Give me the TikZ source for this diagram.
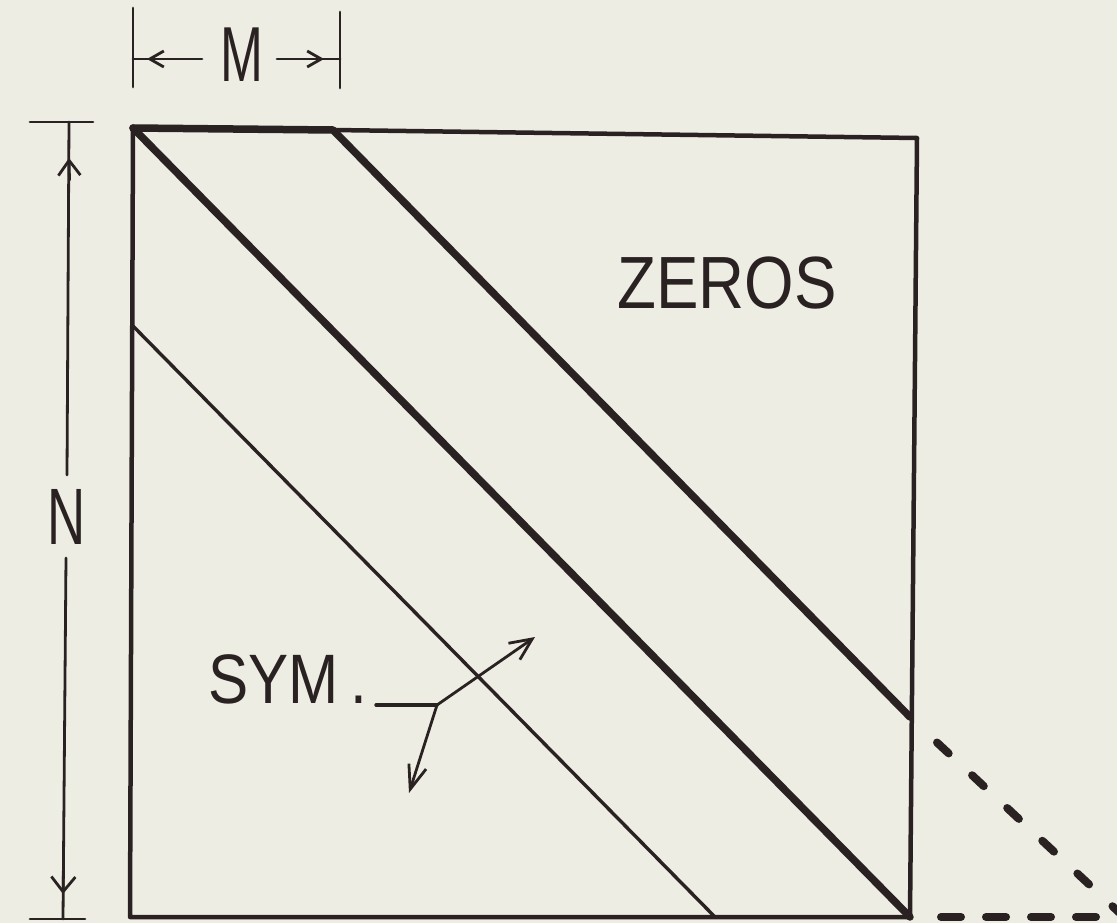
\documentclass[tikz,border=0pt]{standalone}
\usepackage{fontspec}
\setmainfont{Liberation Sans}
\newfontfamily\wide[FakeStretch=0.86]{Liberation Sans}
\newfontfamily\narrow[FakeStretch=0.66]{Liberation Sans}
\usetikzlibrary{arrows.meta}
\definecolor{bg}{HTML}{EEEDE3}
\definecolor{ink}{HTML}{2A2222}
\tikzset{
  thinline/.style={draw=ink, line width=4.5pt, line join=round, line cap=round},
  heavyline/.style={draw=ink, line width=7.5pt, line join=round, line cap=round},
  lightline/.style={draw=ink, line width=3.4pt, line cap=round},
  dimline/.style={draw=ink, line width=2.8pt, line cap=round},
  barb/.style={draw=ink, line width=2.8pt, line cap=round, line join=round},
  dashline/.style={draw=ink, line width=8pt, line cap=round},
  label/.style={inner sep=0pt, text=ink}
}
\begin{document}
\begin{tikzpicture}[x=1pt, y=-1pt]
\path[fill=bg] (0,0) rectangle (1117,923);
\useasboundingbox (0,0) rectangle (1117,923);
% corners of the matrix
\coordinate (TL) at (133,128);
\coordinate (TR) at (917,138);
\coordinate (BR) at (910,917);
\coordinate (BL) at (130,917);
\coordinate (Mend) at (333,130);
\coordinate (Bandend) at (910,717);
\coordinate (Lowstart) at (132,325);
\coordinate (Lowend) at (715,917);
% outline
\draw[thinline] (Mend) -- (TR) -- (BR) -- (BL) -- (TL);
\draw[heavyline] (TL) -- (Mend) -- (Bandend);
\draw[heavyline] (TL) -- (BR);
\draw[lightline] (Lowstart) -- (Lowend);
% dashed extension
\coordinate (D1) at (937,742.5);
\coordinate (D2) at (1124,917);
\coordinate (H1) at (941,917);
\coordinate (H2) at (1130,917);
\draw[dashline, dash pattern=on 16pt off 32pt] (D1) -- (D2);
\draw[dashline, dash pattern=on 20pt off 25pt] (H1) -- (H2);
% M dimension
\coordinate (Mt1a) at (133,8);  \coordinate (Mt1b) at (133,87);
\coordinate (Mt2a) at (340,12); \coordinate (Mt2b) at (340,88);
\draw[dimline] (Mt1a) -- (Mt1b);
\draw[dimline] (Mt2a) -- (Mt2b);
\node[label, font=\narrow\fontsize{78}{78}\selectfont] (M) at (242,55) {M};
\coordinate (Ml1) at (133,59); \coordinate (Ml2) at (202,59);
\coordinate (Mr1) at (277,59); \coordinate (Mr2) at (340,59);
\draw[dimline] (Ml1) -- (Ml2);
\draw[dimline] (Mr1) -- (Mr2);
\draw[barb, -{Straight Barb[length=14pt,width=16pt]}] (165,59) -- (147,59);
\draw[barb, -{Straight Barb[length=14pt,width=16pt]}] (305,59) -- (324,59);
% N dimension
\coordinate (Nt1) at (30,122); \coordinate (Nt2) at (93,122);
\coordinate (Nb1) at (30,919); \coordinate (Nb2) at (85,919);
\draw[dimline] (Nt1) -- (Nt2);
\draw[dimline] (Nb1) -- (Nb2);
\node[label, font=\narrow\fontsize{80}{80}\selectfont] (N) at (67,517) {N};
\coordinate (Ns1) at (69,122); \coordinate (Ns2) at (67,475);
\coordinate (Ns3) at (66,558); \coordinate (Ns4) at (63,919);
\draw[dimline] (Ns1) -- (Ns2);
\draw[dimline] (Ns3) -- (Ns4);
\draw[barb, -{Straight Barb[length=15pt,width=22pt]}] (69.5,180) -- (69,158);
\draw[barb, -{Straight Barb[length=15pt,width=24pt]}] (63.5,872) -- (63,894);
% labels
\node[label, font=\wide\fontsize{74}{74}\selectfont] (Z) at (727,283) {ZEROS};
\node[label, font=\wide\fontsize{70}{70}\selectfont, anchor=base west] (S) at (208,703) {SYM\,.};
% SYM leader and arrows
\coordinate (L0) at (376,705);
\coordinate (J) at (437,705);
\coordinate (A1) at (535,637);
\coordinate (A2) at (409,793);
\draw[lightline] (L0) -- (J);
\draw[barb, -{Straight Barb[length=22pt,width=20pt]}] (J) -- (A1);
\draw[barb, -{Straight Barb[length=24pt,width=18pt]}] (J) -- (A2);
\end{tikzpicture}
\end{document}
